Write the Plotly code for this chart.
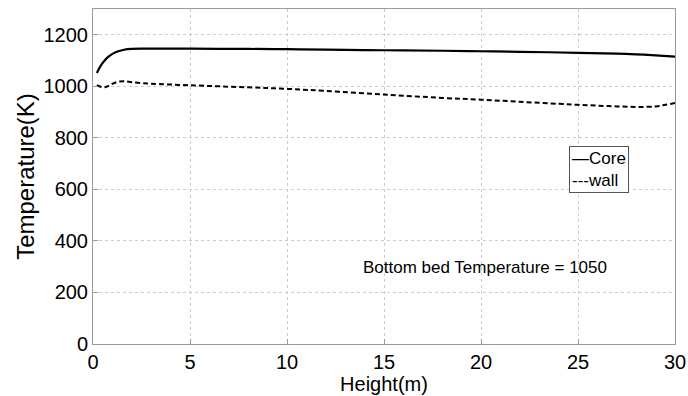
import plotly.graph_objects as go

height_core = [0.2, 0.4, 0.6, 0.8, 1.0, 1.3, 1.6, 2.0, 2.5, 3, 5, 8, 10, 12, 15, 18, 20, 22, 25, 27, 28, 29, 30]
temp_core = [1052, 1080, 1100, 1115, 1126, 1136, 1142, 1145, 1146, 1146, 1146, 1145, 1144, 1142, 1140, 1138, 1136, 1134, 1130, 1127, 1124, 1120, 1115]

height_wall = [0.2, 0.4, 0.6, 0.8, 1.0, 1.3, 1.6, 2.0, 2.5, 3, 5, 8, 10, 12, 15, 18, 20, 22, 24, 25, 26, 27, 28, 29, 29.5, 30]
temp_wall = [1005, 998, 996, 1002, 1010, 1018, 1020, 1016, 1012, 1010, 1004, 996, 990, 982, 968, 955, 948, 940, 932, 928, 925, 922, 920, 922, 928, 935]

x_ticks = [0, 5, 10, 15, 20, 25, 30]
y_ticks = [0, 200, 400, 600, 800, 1000, 1200]

FONT = "Liberation Sans, Arial"

fig = go.Figure()
fig.add_trace(go.Scatter(x=height_core, y=temp_core, mode="lines", name="Core",
                         line=dict(color="black", width=2.2, shape="spline")))
fig.add_trace(go.Scatter(x=height_wall, y=temp_wall, mode="lines", name="wall",
                         line=dict(color="black", width=2, dash="5px,3px", shape="spline")))

axis_common = dict(showline=True, linecolor="#999999", linewidth=1, mirror=True,
                   ticks="inside", tickcolor="#999999", ticklen=5,
                   showgrid=True, gridcolor="#cccccc", griddash="dot", gridwidth=1,
                   zeroline=False, automargin=False,
                   tickfont=dict(family=FONT, size=20, color="black"))

fig.update_xaxes(range=[0, 30], tickvals=x_ticks,
                 title=dict(text="Height(m)", font=dict(family=FONT, size=20, color="black"), standoff=0),
                 **axis_common)
fig.update_yaxes(range=[0, 1300], tickvals=y_ticks,
                 title=dict(text="Temperature(K)", font=dict(family=FONT, size=24, color="black"), standoff=2),
                 **axis_common)

fig.add_annotation(x=20.2, y=295, text="Bottom bed Temperature = 1050", showarrow=False,
                   font=dict(family=FONT, size=17, color="black"))

# legend box drawn like the reference's text legend
fig.add_annotation(xref="paper", yref="paper", x=0.818, y=0.592, xanchor="left", yanchor="top",
                   text="—Core<br>---wall", showarrow=False, align="left",
                   bordercolor="#555555", borderwidth=1, borderpad=2, bgcolor="white",
                   font=dict(family=FONT, size=17, color="black"))

fig.update_layout(
    width=688, height=396,
    margin=dict(l=93, r=13, t=9, b=52),
    paper_bgcolor="white", plot_bgcolor="white",
    showlegend=False,
)

fig.write_html("out.html")
